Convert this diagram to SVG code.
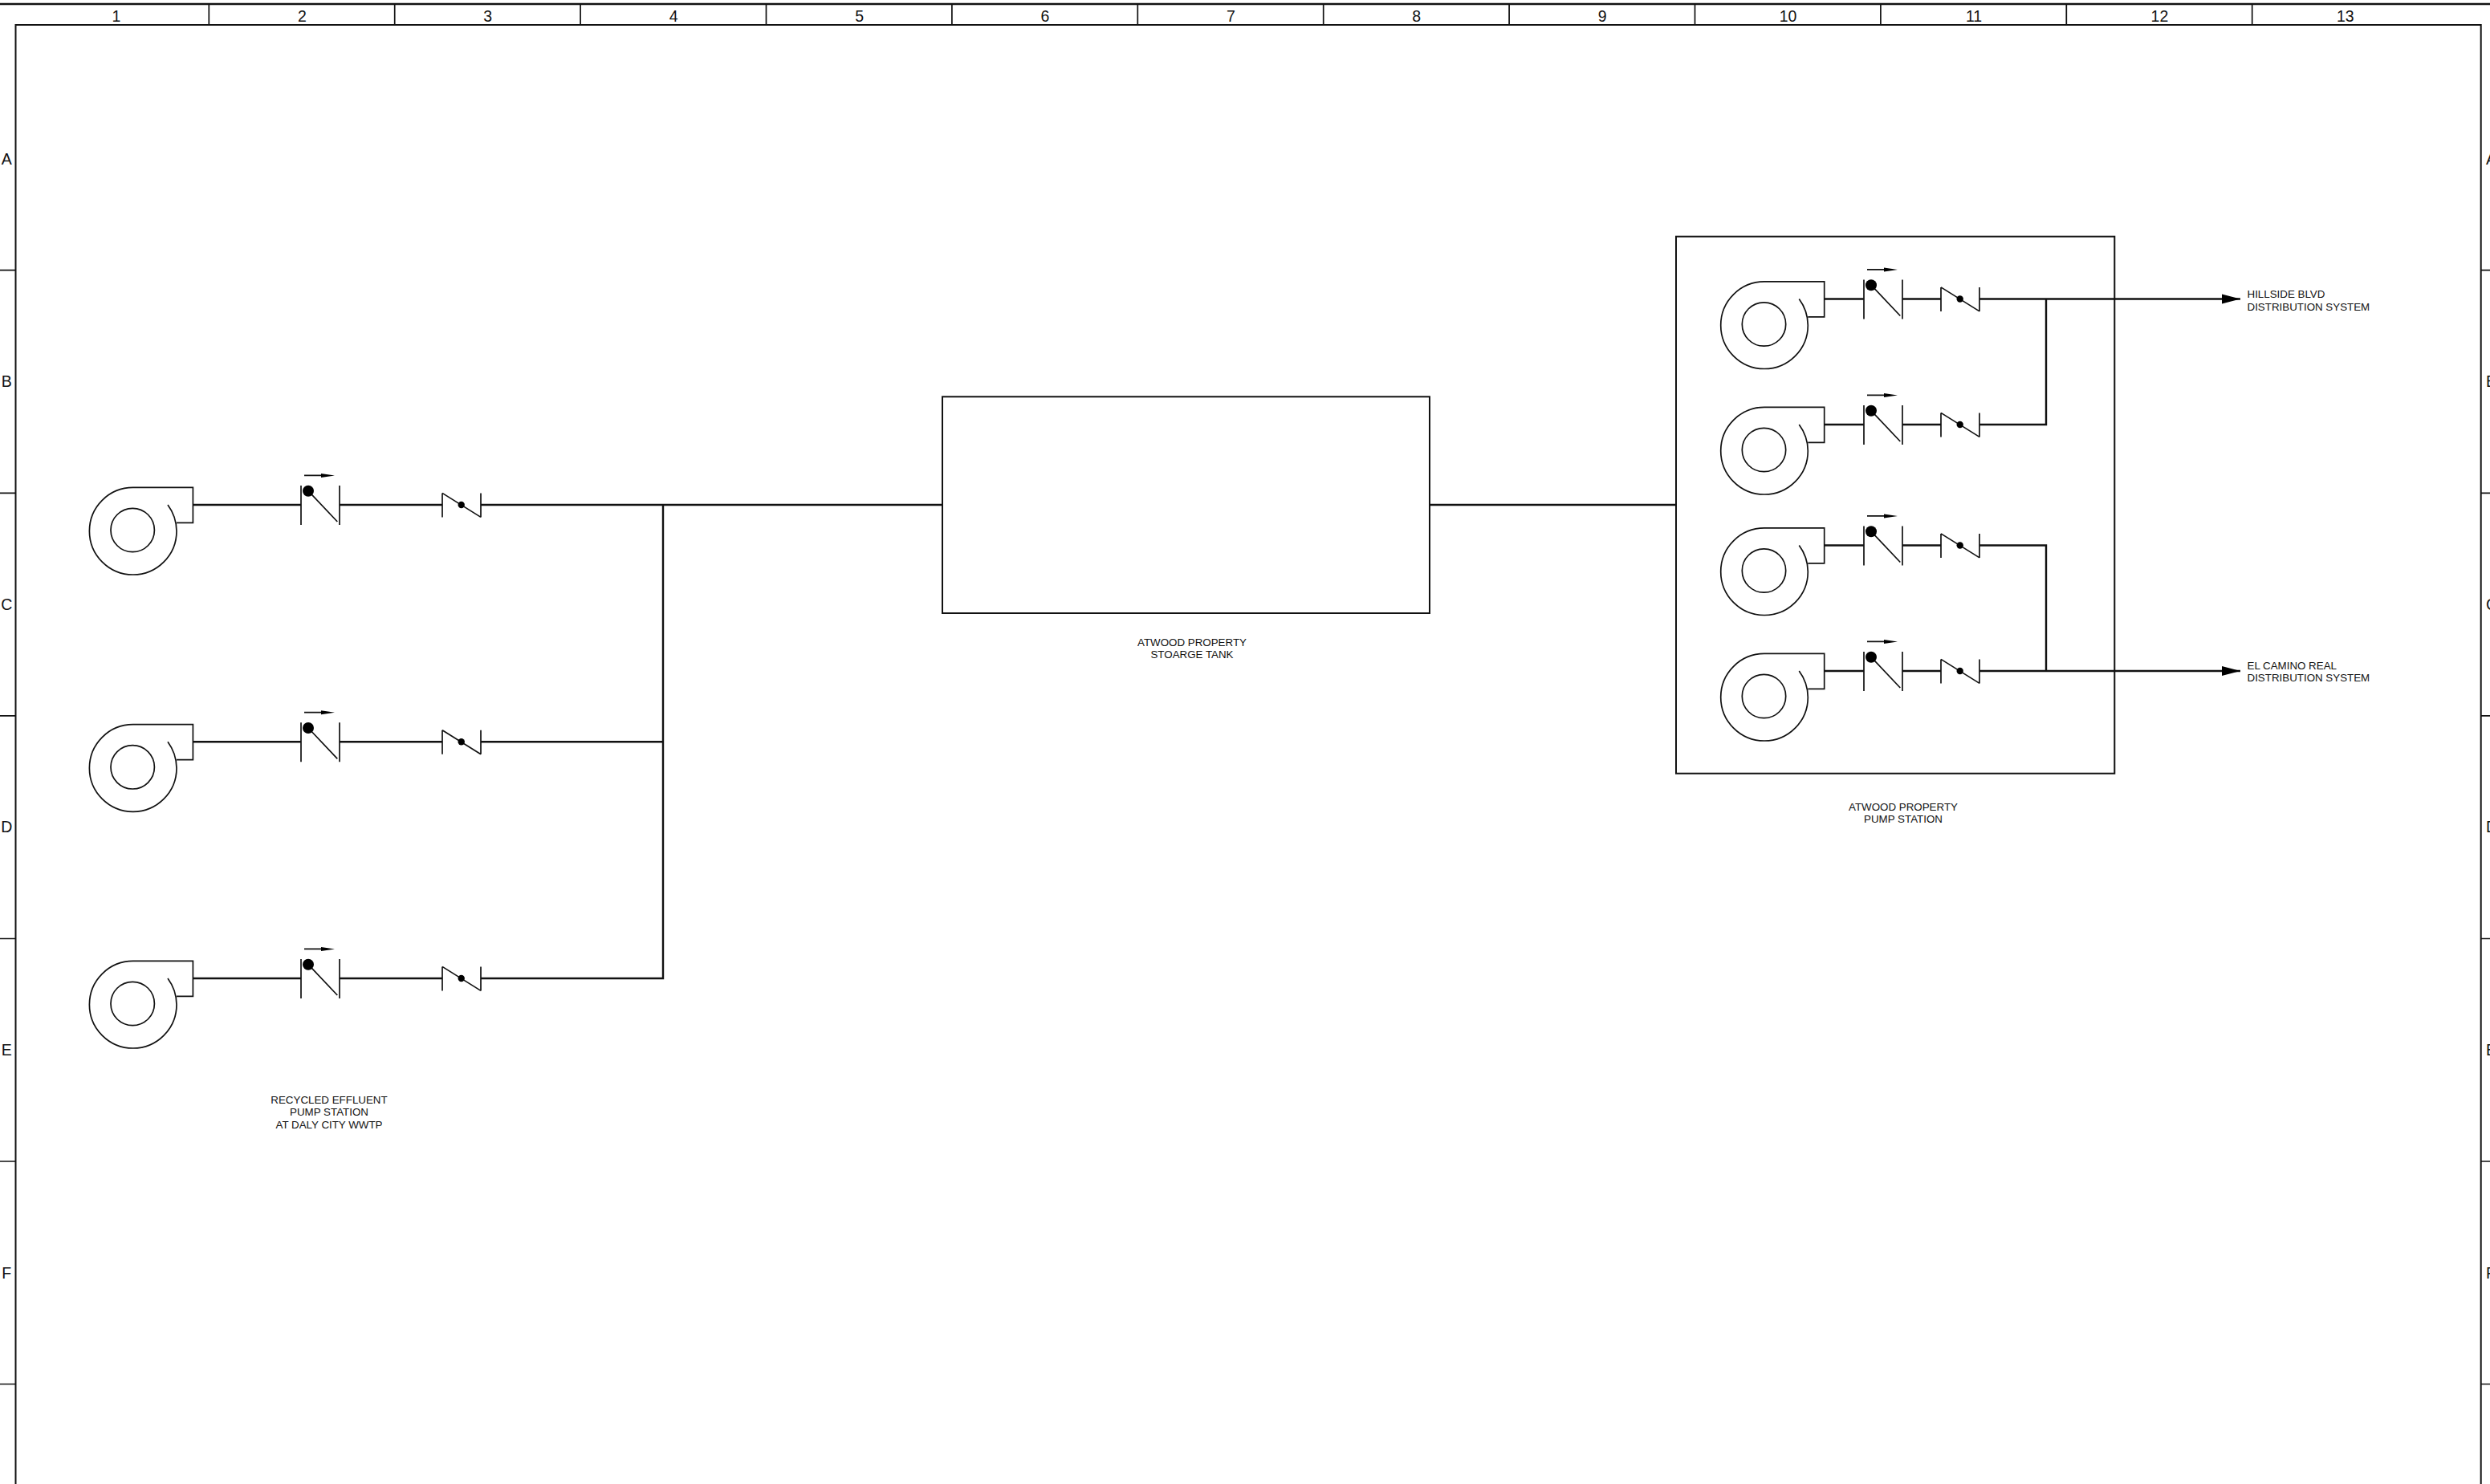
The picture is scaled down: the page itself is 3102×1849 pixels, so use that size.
<svg xmlns="http://www.w3.org/2000/svg" xmlns:xlink="http://www.w3.org/1999/xlink" width="3102" height="1849" viewBox="0 0 3102 1849">
<style>
.t{font-family:"Liberation Sans",Arial,sans-serif;fill:#111}
.g{font-size:19.5px}
.s{font-size:13.35px}
.m{text-anchor:middle}
.l{fill:none;stroke:#111;stroke-width:1.7}
.f{fill:none;stroke:#111;stroke-width:2}
.p{fill:none;stroke:#111;stroke-width:2.4}
.d{fill:#000}
</style>
<defs>
<g id="pump"><path class="l" d="M-74.7,-21.6H0V22.4H-20.4M-74.7,-21.6A54,54 0 0 0 -74.7,87A54.3,54.3 0 0 0 -20.4,32.7A56,56 0 0 0 -31.4,0"/><ellipse class="l" cx="-75.2" cy="31.5" rx="27.2" ry="27.2"/></g>
<g id="gate"><path class="l" d="M0,-24V25M48,-24V25M9,-17.3L45.3,21M4,-36.6H26"/><circle class="d" cx="9" cy="-17.3" r="7"/><path class="d" d="M25,-39.1L42,-36.6L25,-34.1Z"/></g>
<g id="check"><path class="l" d="M0,-14.6V15.4M48,-14.6V15.4M0,-14.6L48,15.4"/><circle class="d" cx="23.7" cy="0" r="4.2"/></g>
<marker id="ah" markerUnits="userSpaceOnUse" markerWidth="24" markerHeight="14" refX="23" refY="7" orient="auto"><path d="M0,1L23,7L0,13Z" fill="#000"/></marker>
</defs>
<rect width="3102" height="1849" fill="#fff"/>
<g id="border">
<path class="p" d="M0,5H3102"/>
<path class="f" d="M19.5,1849V31H3090.7V1849"/>
<path class="l" d="M260.3,5V31M491.7,5V31M723.1,5V31M954.5,5V31M1185.9,5V31M1417.3,5V31M1648.7,5V31M1880.1,5V31M2111.5,5V31M2342.9,5V31M2574.3,5V31M2805.7,5V31"/>
<path class="l" d="M0,336.7H19.5M0,614.3H19.5M0,891.9H19.5M0,1169.5H19.5M0,1447H19.5M0,1724.5H19.5M3090.7,336.7H3102M3090.7,614.3H3102M3090.7,891.9H3102M3090.7,1169.5H3102M3090.7,1447H3102M3090.7,1724.5H3102"/>
<g class="t g m">
<text x="145" y="26.7">1</text><text x="376.4" y="26.7">2</text><text x="607.8" y="26.7">3</text><text x="839.2" y="26.7">4</text><text x="1070.6" y="26.7">5</text><text x="1302" y="26.7">6</text><text x="1533.4" y="26.7">7</text><text x="1764.8" y="26.7">8</text><text x="1996.2" y="26.7">9</text><text x="2227.6" y="26.7">10</text><text x="2459" y="26.7">11</text><text x="2690.4" y="26.7">12</text><text x="2921.8" y="26.7">13</text>
<text x="8.3" y="204.5">A</text><text x="8.3" y="482.1">B</text><text x="8.3" y="759.7">C</text><text x="8.3" y="1037.3">D</text><text x="8.3" y="1314.9">E</text><text x="8.3" y="1592.5">F</text>
</g>
<g class="t g">
<text x="3097" y="204.5">A</text><text x="3097" y="482.1">B</text><text x="3097" y="759.7">C</text><text x="3097" y="1037.3">D</text><text x="3097" y="1314.9">E</text><text x="3097" y="1592.5">F</text>
</g>
</g>
<g id="connectors">
<path class="p" d="M240.4,629H375M423,629H551M599,629H1173.7"/>
<path class="p" d="M240.4,924.3H375M423,924.3H551M599,924.3H826"/>
<path class="p" d="M240.4,1219H375M423,1219H551M599,1219H826V629"/>
<path class="p" d="M1781,629H2088"/>
<path class="p" d="M2272.7,372.5H2322M2370,372.5H2418M2370,529H2418M2272.7,529H2322M2272.7,679.5H2322M2370,679.5H2418M2272.7,836H2322M2370,836H2418"/>
<path class="p" d="M2466,529H2549V372.5"/>
<path class="p" d="M2466,679.5H2549V836"/>
<path class="p" marker-end="url(#ah)" d="M2466,372.5H2791"/>
<path class="p" marker-end="url(#ah)" d="M2466,836H2791"/>
</g>
<g id="recycled-pump-1"><use xlink:href="#pump" href="#pump" transform="translate(240.4,629)"/><use xlink:href="#gate" href="#gate" transform="translate(375,629)"/><use xlink:href="#check" href="#check" transform="translate(551,629)"/></g>
<g id="recycled-pump-2"><use xlink:href="#pump" href="#pump" transform="translate(240.4,924.3)"/><use xlink:href="#gate" href="#gate" transform="translate(375,924.3)"/><use xlink:href="#check" href="#check" transform="translate(551,924.3)"/></g>
<g id="recycled-pump-3"><use xlink:href="#pump" href="#pump" transform="translate(240.4,1219)"/><use xlink:href="#gate" href="#gate" transform="translate(375,1219)"/><use xlink:href="#check" href="#check" transform="translate(551,1219)"/></g>
<g id="recycled-label" class="t s m"><text x="410" y="1375">RECYCLED EFFLUENT</text><text x="410" y="1390.3">PUMP STATION</text><text x="410" y="1405.6">AT DALY CITY WWTP</text></g>
<g id="storage-tank"><rect class="f" x="1174" y="494.3" width="607" height="269.7"/>
<g class="t s m"><text x="1485" y="805">ATWOOD PROPERTY</text><text x="1485" y="820.3">STOARGE TANK</text></g></g>
<g id="atwood-pump-station"><rect class="f" x="2088" y="294.7" width="546.3" height="669"/>
<g class="t s m"><text x="2371" y="1010">ATWOOD PROPERTY</text><text x="2371" y="1025.3">PUMP STATION</text></g></g>
<g id="atwood-pump-1"><use xlink:href="#pump" href="#pump" transform="translate(2272.7,372.5)"/><use xlink:href="#gate" href="#gate" transform="translate(2322,372.5)"/><use xlink:href="#check" href="#check" transform="translate(2418,372.5)"/></g>
<g id="atwood-pump-2"><use xlink:href="#pump" href="#pump" transform="translate(2272.7,529)"/><use xlink:href="#gate" href="#gate" transform="translate(2322,529)"/><use xlink:href="#check" href="#check" transform="translate(2418,529)"/></g>
<g id="atwood-pump-3"><use xlink:href="#pump" href="#pump" transform="translate(2272.7,679.5)"/><use xlink:href="#gate" href="#gate" transform="translate(2322,679.5)"/><use xlink:href="#check" href="#check" transform="translate(2418,679.5)"/></g>
<g id="atwood-pump-4"><use xlink:href="#pump" href="#pump" transform="translate(2272.7,836)"/><use xlink:href="#gate" href="#gate" transform="translate(2322,836)"/><use xlink:href="#check" href="#check" transform="translate(2418,836)"/></g>
<g id="hillside-label" class="t s"><text x="2799.5" y="371.3">HILLSIDE BLVD</text><text x="2799.5" y="386.7">DISTRIBUTION SYSTEM</text></g>
<g id="el-camino-label" class="t s"><text x="2799.5" y="834">EL CAMINO REAL</text><text x="2799.5" y="849.3">DISTRIBUTION SYSTEM</text></g>
</svg>
